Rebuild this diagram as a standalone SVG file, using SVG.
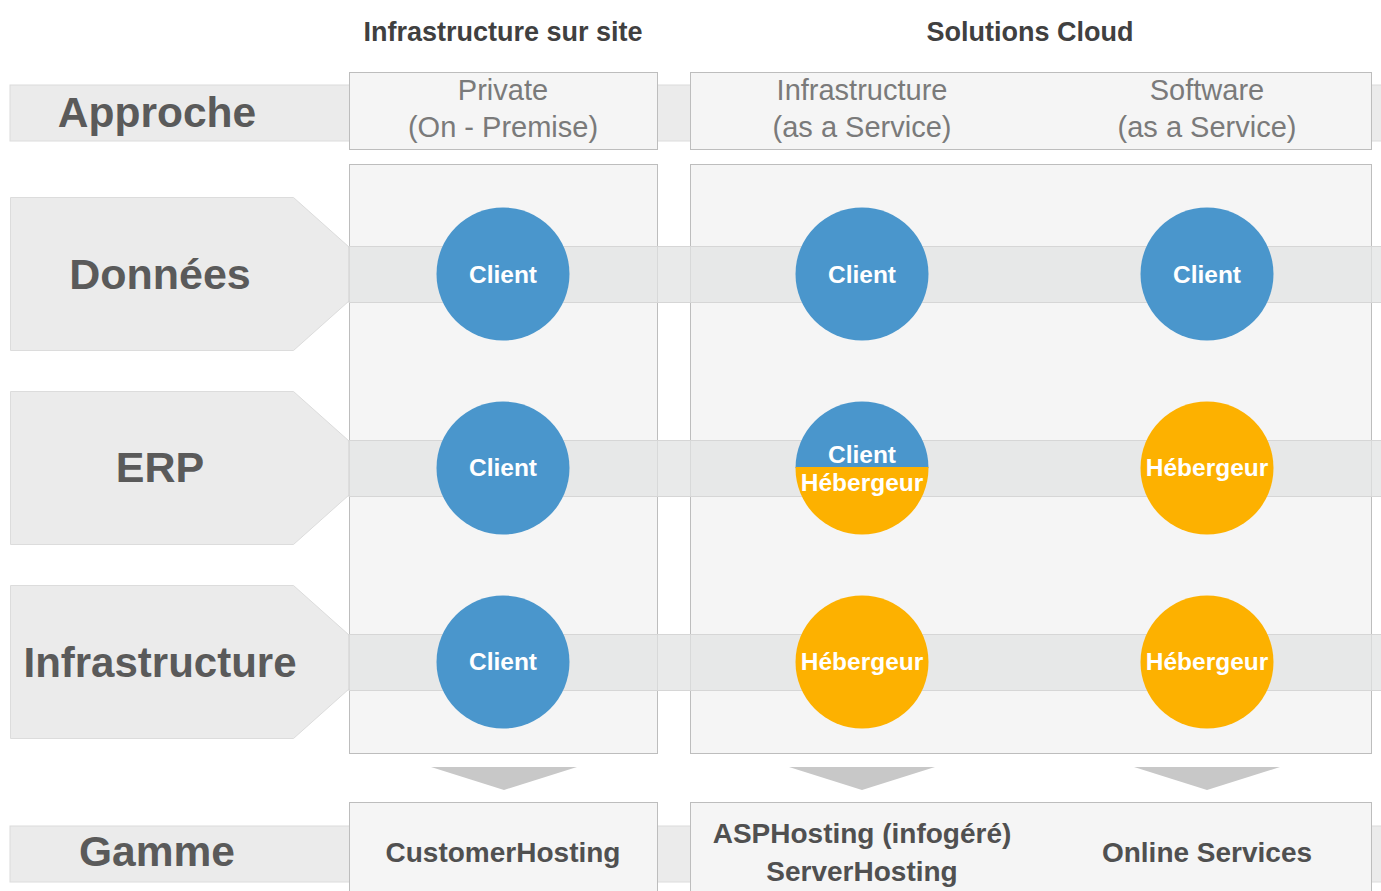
<svg xmlns="http://www.w3.org/2000/svg" width="1381" height="891" viewBox="0 0 1381 891">
<style>
.band{fill:#ebebeb;stroke:#dcdcdc;stroke-width:1}
.rowband{fill:#e2e3e3;fill-opacity:0.75;stroke:#d6d6d6;stroke-width:1}
.box{fill:#f5f5f5;stroke:#bdbdbd;stroke-width:1}
.lbl{font-family:"Liberation Sans",Arial,sans-serif;font-weight:bold;fill:#5a5a5a;text-anchor:middle}
.top{font-family:"Liberation Sans",Arial,sans-serif;font-weight:bold;fill:#404040;text-anchor:middle;font-size:27px}
.sub{font-family:"Liberation Sans",Arial,sans-serif;fill:#7a7a7a;text-anchor:middle;font-size:29px}
.blue{fill:#4a96cc}
.orange{fill:#fdb100}
.ct{font-family:"Liberation Sans",Arial,sans-serif;font-weight:bold;fill:#ffffff;text-anchor:middle;font-size:24.5px}
.arr{fill:#c8c8c8}
.gam{font-family:"Liberation Sans",Arial,sans-serif;font-weight:bold;fill:#505050;text-anchor:middle;font-size:28px}
</style>
<defs>
<clipPath id="top"><rect x="790" y="395" width="150" height="73"/></clipPath>
<clipPath id="bot"><rect x="790" y="467" width="150" height="80"/></clipPath>
</defs>
<rect width="1381" height="891" fill="#ffffff"/>

<g id="headers">
<text class="top" x="503" y="41">Infrastructure sur site</text>
<text class="top" x="1030" y="41">Solutions Cloud</text>
</g>

<g id="approche">
<rect class="band" x="10" y="85" width="1380" height="56"/>
<text class="lbl" x="157" y="127" font-size="42.5">Approche</text>
</g>
<g id="gamme">
<rect class="band" x="10" y="826" width="1380" height="56"/>
<text class="lbl" x="157" y="866" font-size="42.5">Gamme</text>
</g>

<g id="hdr-private">
<rect class="box" x="349.5" y="72.5" width="308" height="77"/>
<text class="sub" x="503" y="100">Private</text>
<text class="sub" x="503" y="137">(On - Premise)</text>
</g>
<g id="hdr-cloud">
<rect class="box" x="690.5" y="72.5" width="681" height="77"/>
<text class="sub" x="862" y="100">Infrastructure</text>
<text class="sub" x="862" y="137">(as a Service)</text>
<text class="sub" x="1207" y="100">Software</text>
<text class="sub" x="1207" y="137">(as a Service)</text>
</g>

<g id="box-private"><rect class="box" x="349.5" y="164.5" width="308" height="589"/></g>
<g id="box-cloud"><rect class="box" x="690.5" y="164.5" width="681" height="589"/></g>

<g id="row-donnees">
<polygon class="band" points="10.5,197.5 293.5,197.5 349,247 349,301 293.5,350.5 10.5,350.5"/>
<rect class="rowband" x="349" y="246.5" width="1040" height="56"/>
<text class="lbl" x="160" y="289" font-size="43">Données</text>
</g>
<g id="row-erp">
<polygon class="band" points="10.5,391.5 293.5,391.5 349,441 349,495 293.5,544.5 10.5,544.5"/>
<rect class="rowband" x="349" y="440.5" width="1040" height="56"/>
<text class="lbl" x="160" y="482" font-size="43">ERP</text>
</g>
<g id="row-infra">
<polygon class="band" points="10.5,585.5 293.5,585.5 349,635 349,689 293.5,738.5 10.5,738.5"/>
<rect class="rowband" x="349" y="634.5" width="1040" height="56"/>
<text class="lbl" x="160" y="677" font-size="42">Infrastructure</text>
</g>

<g id="c-d1"><circle class="blue" cx="503" cy="274" r="66.5"/><text class="ct" x="503" y="283">Client</text></g>
<g id="c-d2"><circle class="blue" cx="862" cy="274" r="66.5"/><text class="ct" x="862" y="283">Client</text></g>
<g id="c-d3"><circle class="blue" cx="1207" cy="274" r="66.5"/><text class="ct" x="1207" y="283">Client</text></g>

<g id="c-e1"><circle class="blue" cx="503" cy="468" r="66.5"/><text class="ct" x="503" y="476">Client</text></g>
<g id="c-e2">
<circle class="blue" cx="862" cy="468" r="66.5" clip-path="url(#top)"/>
<circle class="orange" cx="862" cy="468" r="66.5" clip-path="url(#bot)"/>
<text class="ct" x="862" y="463">Client</text>
<text class="ct" x="862" y="491">Hébergeur</text>
</g>
<g id="c-e3"><circle class="orange" cx="1207" cy="468" r="66.5"/><text class="ct" x="1207" y="476">Hébergeur</text></g>

<g id="c-i1"><circle class="blue" cx="503" cy="662" r="66.5"/><text class="ct" x="503" y="670">Client</text></g>
<g id="c-i2"><circle class="orange" cx="862" cy="662" r="66.5"/><text class="ct" x="862" y="670">Hébergeur</text></g>
<g id="c-i3"><circle class="orange" cx="1207" cy="662" r="66.5"/><text class="ct" x="1207" y="670">Hébergeur</text></g>

<g id="connectors">
<polygon class="arr" points="431,767 577,767 504,790"/>
<polygon class="arr" points="789,767 935,767 862,790"/>
<polygon class="arr" points="1134,767 1280,767 1207,790"/>
</g>

<g id="g-private">
<rect class="box" x="349.5" y="802.5" width="308" height="95"/>
<text class="gam" x="503" y="862">CustomerHosting</text>
</g>
<g id="g-cloud">
<rect class="box" x="690.5" y="802.5" width="681" height="95"/>
<text class="gam" x="862" y="843">ASPHosting (infogéré)</text>
<text class="gam" x="862" y="881">ServerHosting</text>
<text class="gam" x="1207" y="862">Online Services</text>
</g>
</svg>
